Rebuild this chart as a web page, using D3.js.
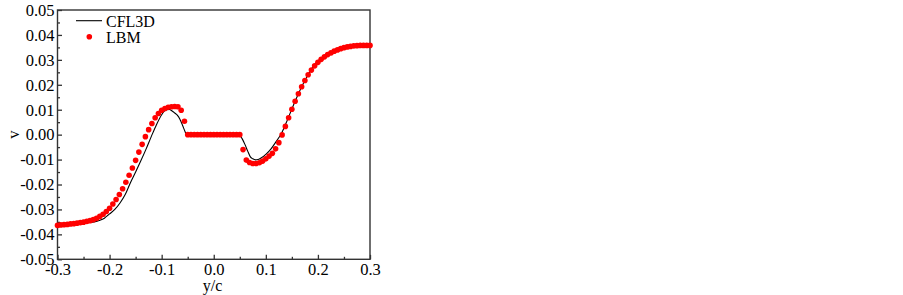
<!DOCTYPE html>
<html>
<head>
<meta charset="utf-8">
<script src="https://cdn.jsdelivr.net/npm/d3@7/dist/d3.min.js"></script>
<style>
  html, body { margin: 0; padding: 0; background: #fff; }
  svg { display: block; }
  text { font-family: "Liberation Serif", "Times New Roman", serif; fill: #000; }
</style>
</head>
<body>
<svg id="chart" width="903" height="295"></svg>
<script>
// ---- data ----
const xTicks = [-0.3, -0.2, -0.1, 0.0, 0.1, 0.2, 0.3];
const xTickLabels = ["-0.3", "-0.2", "-0.1", "0.0", "0.1", "0.2", "0.3"];
const yTicks = [-0.05, -0.04, -0.03, -0.02, -0.01, 0.0, 0.01, 0.02, 0.03, 0.04, 0.05];
const yTickLabels = ["-0.05", "-0.04", "-0.03", "-0.02", "-0.01", "0.00", "0.01", "0.02", "0.03", "0.04", "0.05"];
const xMinorTicks = [-0.25, -0.15, -0.05, 0.05, 0.15, 0.25];
const yMinorTicks = [-0.045, -0.035, -0.025, -0.015, -0.005, 0.005, 0.015, 0.025, 0.035, 0.045];

const cflX = [-0.3, -0.28, -0.26, -0.24, -0.23, -0.22, -0.21, -0.20, -0.19, -0.18, -0.17, -0.16, -0.15, -0.14, -0.13, -0.12, -0.11, -0.10, -0.095, -0.09, -0.085, -0.08, -0.075, -0.07, -0.065, -0.06, -0.055, -0.052,
  0.048, 0.05, 0.055, 0.06, 0.065, 0.07, 0.075, 0.08, 0.085, 0.09, 0.10, 0.11, 0.12, 0.13, 0.14, 0.15, 0.16, 0.17, 0.18, 0.19, 0.20, 0.21, 0.22, 0.23, 0.24, 0.25, 0.26, 0.27, 0.28, 0.29, 0.30];
const cflY = [-0.0364, -0.0360, -0.0356, -0.0352, -0.0350, -0.0344, -0.0335, -0.0318, -0.0300, -0.0274, -0.0240, -0.0193, -0.0150, -0.0105, -0.0058, -0.0008, 0.0040, 0.0080, 0.0094, 0.0100, 0.0101, 0.0095, 0.0087, 0.0078, 0.0062, 0.0038, 0.0012, 0.0000,
  0.0000, -0.0003, -0.0018, -0.0040, -0.0065, -0.0088, -0.0097, -0.0101, -0.0100, -0.0095, -0.0079, -0.0057, -0.0027, 0.0005, 0.0052, 0.0103, 0.0152, 0.0197, 0.0236, 0.0270, 0.0295, 0.0312, 0.0325, 0.0336, 0.0345, 0.0352, 0.0357, 0.0360, 0.0362, 0.0362, 0.0362];

const lbmX = [-0.3, -0.29375, -0.2875, -0.28125, -0.275, -0.26875, -0.2625, -0.25625, -0.25, -0.24375,
  -0.2375, -0.23125, -0.225, -0.21875, -0.2125, -0.20625, -0.2, -0.19375, -0.1875, -0.18125,
  -0.175, -0.16875, -0.1625, -0.15625, -0.15, -0.14375, -0.1375, -0.13125, -0.125, -0.11875,
  -0.1125, -0.10625, -0.1, -0.09375, -0.0875, -0.08125, -0.075, -0.06875, -0.0625, -0.05625,
  -0.05, -0.04375, -0.0375, -0.03125, -0.025, -0.01875, -0.0125, -0.00625, 0.0, 0.00625,
  0.0125, 0.01875, 0.025, 0.03125, 0.0375, 0.04375, 0.05, 0.05625, 0.0625, 0.06875,
  0.075, 0.08125, 0.0875, 0.09375, 0.1, 0.10625, 0.1125, 0.11875, 0.125, 0.13125,
  0.1375, 0.14375, 0.15, 0.15625, 0.1625, 0.16875, 0.175, 0.18125, 0.1875, 0.19375,
  0.2, 0.20625, 0.2125, 0.21875, 0.225, 0.23125, 0.2375, 0.24375, 0.25, 0.25625,
  0.2625, 0.26875, 0.275, 0.28125, 0.2875, 0.29375, 0.3];
const lbmY = [-0.0364, -0.0362, -0.0361, -0.0360, -0.0358, -0.0357, -0.0355, -0.0353, -0.0351, -0.0348,
  -0.0345, -0.0341, -0.0336, -0.0328, -0.0319, -0.0308, -0.0295, -0.0278, -0.0260, -0.0240,
  -0.0217, -0.0191, -0.0163, -0.0134, -0.0103, -0.0070, -0.0039, -0.0008, 0.0020, 0.0045,
  0.0068, 0.0085, 0.0098, 0.0105, 0.0110, 0.0112, 0.0113, 0.0112, 0.0098, 0.0054,
  0.0, 0.0, 0.0, 0.0, 0.0, 0.0, 0.0, 0.0, 0.0, 0.0,
  0.0, 0.0, 0.0, 0.0, 0.0, 0.0, 0.0, -0.0060, -0.0102, -0.0112,
  -0.0116, -0.0116, -0.0113, -0.0106, -0.0097, -0.0086, -0.0075, -0.0057, -0.0032, -0.0001,
  0.0033, 0.0068, 0.0102, 0.0134, 0.0164, 0.0192, 0.0217, 0.0240, 0.0259, 0.0276,
  0.0290, 0.0302, 0.0312, 0.0321, 0.0328, 0.0335, 0.0340, 0.0345, 0.0349, 0.0352,
  0.0354, 0.0356, 0.0357, 0.0358, 0.0358, 0.0358, 0.0358];

// ---- layout ----
const L = 57.5, R = 370, T = 10, B = 259.3;
const FS = 16.5;
const svg = d3.select("#chart");
const x = d3.scaleLinear().domain([-0.3, 0.3]).range([L, R]);
const y = d3.scaleLinear().domain([-0.05, 0.05]).range([B, T]);

const axisColor = "#333";

const gx = svg.append("g").attr("transform", `translate(0,${B})`)
  .call(d3.axisBottom(x).tickValues(xTicks).tickSize(-4.5)
    .tickFormat((d, i) => xTickLabels[i]));
gx.select(".domain").remove();
gx.selectAll("line").attr("stroke", axisColor).attr("stroke-width", 1.3);
gx.selectAll("text").attr("font-size", FS).attr("font-family", "Liberation Serif, serif")
  .attr("dy", null).attr("y", 16);

const gxm = svg.append("g").attr("transform", `translate(0,${B})`)
  .call(d3.axisBottom(x).tickValues(xMinorTicks).tickSize(-2.5).tickFormat(""));
gxm.select(".domain").remove();
gxm.selectAll("line").attr("stroke", axisColor).attr("stroke-width", 1.3);

const gy = svg.append("g").attr("transform", `translate(${L},0)`)
  .call(d3.axisLeft(y).tickValues(yTicks).tickSize(-4.5)
    .tickFormat((d, i) => yTickLabels[i]));
gy.select(".domain").remove();
gy.selectAll("line").attr("stroke", axisColor).attr("stroke-width", 1.3);
gy.selectAll("text").attr("font-size", FS).attr("font-family", "Liberation Serif, serif").attr("x", -3);

const gym = svg.append("g").attr("transform", `translate(${L},0)`)
  .call(d3.axisLeft(y).tickValues(yMinorTicks).tickSize(-2.5).tickFormat(""));
gym.select(".domain").remove();
gym.selectAll("line").attr("stroke", axisColor).attr("stroke-width", 1.3);

// frame
svg.append("rect").attr("x", L).attr("y", T).attr("width", R - L).attr("height", B - T)
  .attr("fill", "none").attr("stroke", axisColor).attr("stroke-width", 1.4);

// CFL3D line
const cfl = cflX.map((v, i) => [v, cflY[i]]);
svg.append("path").datum(cfl)
  .attr("fill", "none").attr("stroke", "#000").attr("stroke-width", 1.1)
  .attr("d", d3.line().x(d => x(d[0])).y(d => y(d[1])).curve(d3.curveMonotoneX));

// LBM dots
const lbm = lbmX.map((v, i) => [v, lbmY[i]]);
svg.append("g").selectAll("circle").data(lbm).join("circle")
  .attr("cx", d => x(d[0])).attr("cy", d => y(d[1])).attr("r", 2.8)
  .attr("fill", "#ff0000");

// legend
svg.append("line").attr("x1", 76).attr("x2", 102).attr("y1", 20.7).attr("y2", 20.7)
  .attr("stroke", "#000").attr("stroke-width", 1.1);
svg.append("text").attr("x", 106).attr("y", 26.5).attr("font-size", 16).text("CFL3D");
svg.append("circle").attr("cx", 89.3).attr("cy", 36.7).attr("r", 2.8).attr("fill", "#ff0000");
svg.append("text").attr("x", 106).attr("y", 42.5).attr("font-size", 16).text("LBM");

// axis titles
svg.append("text").attr("x", 212.5).attr("y", 290.5).attr("text-anchor", "middle")
  .attr("font-size", 16).text("y/c");
svg.append("text").attr("transform", `translate(19,${y(0)}) rotate(-90)`).attr("text-anchor", "middle")
  .attr("font-size", FS).text("v");
</script>
</body>
</html>
